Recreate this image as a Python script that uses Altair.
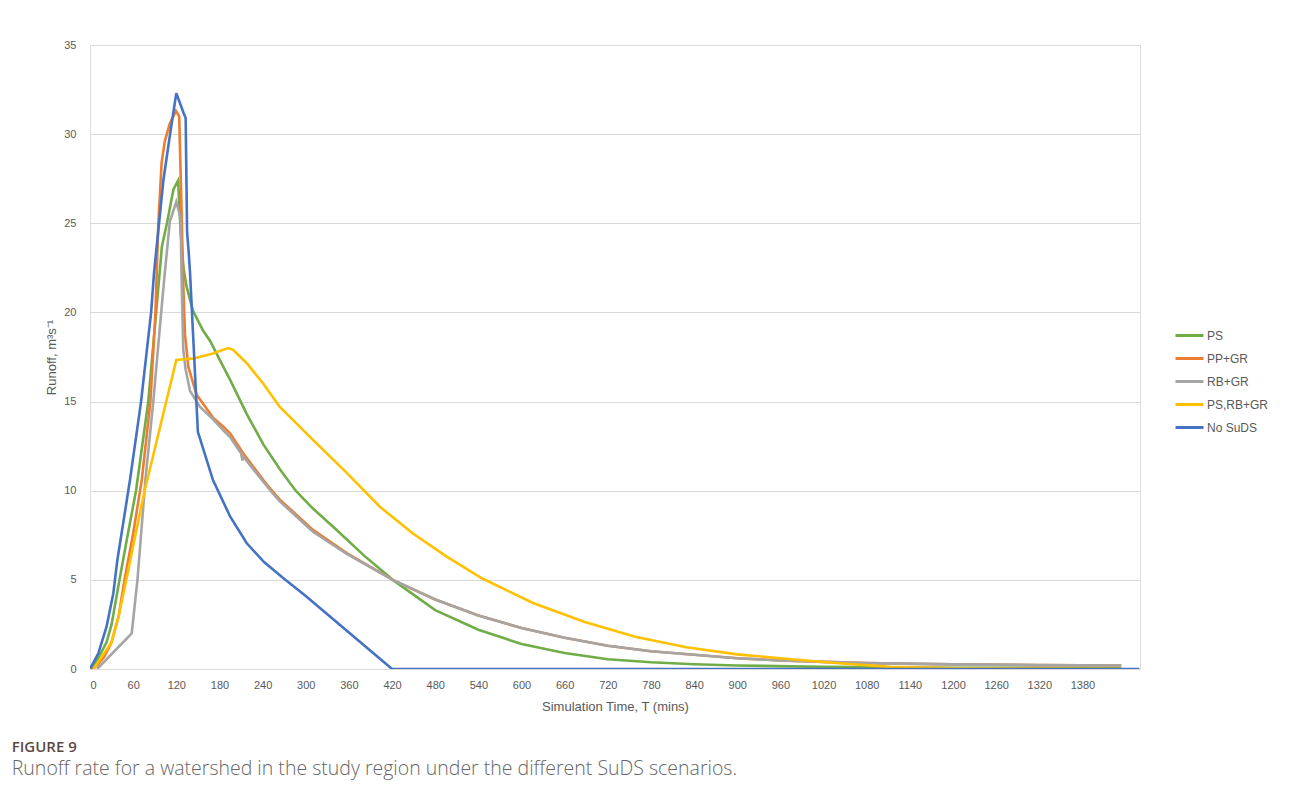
import altair as alt
import pandas as pd

series_names = ["PS", "PP+GR", "RB+GR", "PS,RB+GR", "No SuDS"]
series_colors = ["#70AD47", "#ED7D31", "#A5A5A5", "#FFC000", "#4472C4"]

ps_t = [0, 10, 23, 30, 41, 50, 64, 81, 92, 100, 107, 116, 122.5, 126, 130, 134, 143, 157, 167, 181, 195, 218, 241, 264, 286, 310, 343, 380, 421, 480, 540, 600, 660, 720, 780, 840, 900, 1020, 1200, 1434]
ps_v = [0, 0.5, 1.5, 2.5, 5, 7, 10, 15, 20, 23.7, 25, 26.9, 27.4, 24.5, 22.5, 21.5, 20.1, 19.0, 18.4, 17.3, 16.2, 14.3, 12.6, 11.2, 10.0, 9.0, 7.8, 6.4, 5.0, 3.3, 2.2, 1.4, 0.9, 0.55, 0.38, 0.27, 0.2, 0.12, 0.07, 0.05]

pp_t = [3, 10, 20, 30, 40, 48, 60, 72, 84, 91, 95, 99.6, 104, 111, 119.5, 124, 126.5, 129.7, 132, 136.7, 148, 171, 185, 195, 213, 241, 253, 264, 310, 357, 421, 480, 540, 600, 660, 720, 780, 840, 900, 960, 1020, 1080, 1200, 1320, 1434]
pp_v = [0, 0.2, 0.7, 1.5, 3.0, 5, 7.6, 10.6, 15, 20, 25, 28.4, 29.6, 30.6, 31.3, 31.0, 27.0, 21.6, 18.8, 16.95, 15.4, 14.1, 13.6, 13.2, 12.1, 10.6, 10.0, 9.5, 7.8, 6.5, 5.0, 3.9, 3.0, 2.3, 1.75, 1.3, 1.0, 0.8, 0.6, 0.48, 0.4, 0.33, 0.26, 0.22, 0.2]

rb_t = [10, 58, 66, 77, 88, 99, 103, 111, 120, 126, 127.5, 129.7, 133, 139, 153, 171, 185, 195, 210, 212, 213.5, 241, 253, 264, 310, 357, 421, 480, 540, 600, 660, 720, 780, 840, 900, 960, 1020, 1080, 1200, 1320, 1434]
rb_v = [0, 2.0, 5, 10.6, 15, 20, 21.8, 25.1, 26.2, 25.3, 21.6, 17.9, 16.8, 15.6, 14.7, 14.0, 13.4, 13.0, 12.1, 11.7, 11.9, 10.5, 9.9, 9.4, 7.7, 6.45, 5.0, 3.9, 3.0, 2.3, 1.75, 1.3, 1.0, 0.8, 0.6, 0.48, 0.4, 0.33, 0.26, 0.22, 0.2]

ys_t = [5, 10, 20, 30, 40, 50, 60, 76, 120, 144, 171, 192, 199, 218, 241, 264, 310, 357, 403, 449, 496, 545, 616, 687, 758, 829, 900, 971, 1041, 1112, 1200, 1300, 1434]
ys_v = [0, 0.3, 0.9, 1.5, 3.0, 4.9, 6.9, 10.0, 17.33, 17.42, 17.7, 18.0, 17.9, 17.15, 16.0, 14.7, 12.85, 11.0, 9.1, 7.6, 6.3, 5.09, 3.7, 2.65, 1.81, 1.22, 0.82, 0.56, 0.32, 0.12, 0.04, 0.02, 0.01]

ns_t = [0, 11.6, 23, 32.4, 38, 55.6, 71, 85, 89, 102, 111, 120, 130, 133, 135, 137, 139, 150, 171, 195, 218, 242, 269, 300, 360, 420, 1459]
ns_v = [0, 0.88, 2.37, 4.24, 6.1, 10.6, 15, 20, 22.2, 27.4, 29.9, 32.3, 31.2, 30.9, 24.5, 23.5, 22.3, 13.3, 10.6, 8.54, 7.05, 6.0, 5.09, 4.1, 2.05, 0, 0]

x_ticks = list(range(0, 1381, 60))
y_ticks = [0, 5, 10, 15, 20, 25, 30, 35]

all_t = [ps_t, pp_t, rb_t, ys_t, ns_t]
all_v = [ps_v, pp_v, rb_v, ys_v, ns_v]
rows = []
for name, ts, vs in zip(series_names, all_t, all_v):
    for t, v in zip(ts, vs):
        rows.append({"series": name, "t": t, "v": v})
df = pd.DataFrame(rows)

FONT = "Liberation Sans Narrow, Liberation Sans, sans-serif"
TXT = "#595959"

x_enc = alt.X("t:Q", scale=alt.Scale(domain=[0, 1460], nice=False, zero=False),
              axis=alt.Axis(values=x_ticks, format="d", title="Simulation Time, T (mins)", grid=False,
                            domainColor="#D9D9D9", domainWidth=1.2, ticks=False,
                            labelColor=TXT, labelFontSize=11, labelPadding=10, labelFont=FONT,
                            titleColor=TXT, titleFontSize=13, titleFont=FONT, titleFontWeight="normal",
                            titlePadding=10))
y_enc = alt.Y("v:Q", scale=alt.Scale(domain=[0, 35], nice=False),
              axis=alt.Axis(values=y_ticks, title="Runoff, m³s⁻¹", domain=False, ticks=False,
                            gridColor="#D9D9D9", gridWidth=1,
                            labelColor=TXT, labelFontSize=11, labelPadding=14, labelFont=FONT,
                            titleColor=TXT, titleFontSize=13, titleFont=FONT, titleFontWeight="normal",
                            titlePadding=5))
color_enc = alt.Color("series:N",
                      scale=alt.Scale(domain=series_names, range=series_colors),
                      legend=alt.Legend(title=None, orient="none", legendX=1088, legendY=279,
                                        symbolType="M-1.4,0H1.4", symbolSize=400, symbolStrokeWidth=3,
                                        labelFontSize=12, labelColor=TXT, labelFont=FONT,
                                        labelOffset=6, rowPadding=5))

layers = []
for name in series_names:
    layers.append(
        alt.Chart(df).transform_filter(alt.datum.series == name)
        .mark_line(strokeWidth=2.6, clip=True)
        .encode(x=x_enc, y=y_enc, color=color_enc, order="t:Q")
    )

chart = alt.layer(*layers).properties(
    width=1050, height=624,
    autosize=alt.AutoSizeParams(type="none"),
    padding={"left": 82, "top": 37, "right": 144, "bottom": 130},
    title=alt.TitleParams(
        text="FIGURE 9",
        subtitle="Runoff rate for a watershed in the study region under the different SuDS scenarios.",
        orient="bottom", anchor="start", dx=-34, offset=27,
        font="Open Sans", fontSize=15, fontWeight=600, color="#5a4a44",
        subtitleFont="Open Sans", subtitleFontSize=19.5, subtitleColor="#666666",
        subtitleFontWeight=300, subtitlePadding=5,
    ),
).configure_view(stroke=None).configure(background="white")

chart.save("out.html", embed_options={"renderer": "svg", "actions": False})
